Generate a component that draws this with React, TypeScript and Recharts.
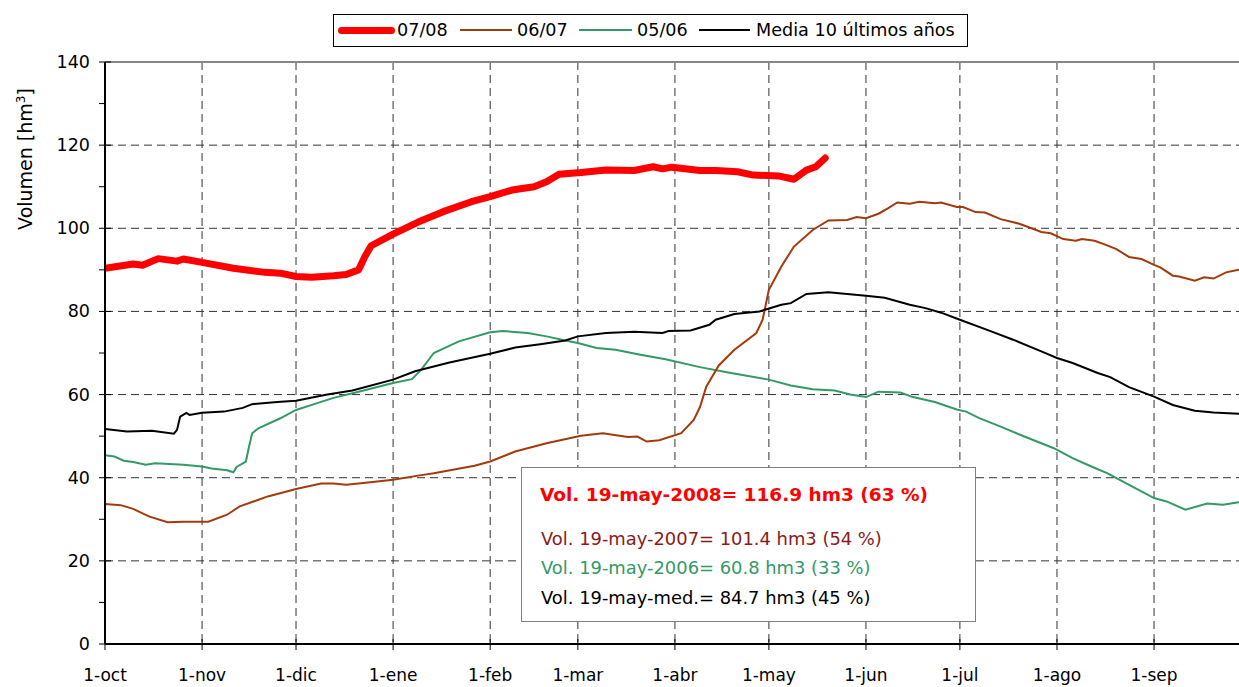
import React from 'react';
import { LineChart, Line, XAxis, YAxis, CartesianGrid, ReferenceLine } from 'recharts';

const MONTH_TICKS = [0, 31, 61, 92, 123, 151, 182, 212, 243, 273, 304, 335];
const MONTH_LABELS = ['1-oct', '1-nov', '1-dic', '1-ene', '1-feb', '1-mar', '1-abr', '1-may', '1-jun', '1-jul', '1-ago', '1-sep'];
const Y_TICKS = [0, 10, 20, 30, 40, 50, 60, 70, 80, 90, 100, 110, 120, 130, 140];
const GRID_Y = [20, 40, 60, 80, 100, 120];
const GRID_X = [31, 61, 92, 123, 151, 182, 212, 243, 273, 304, 335];

const DAYS_0708 = [0, 9, 12, 17, 23, 25, 31, 41, 51, 56, 61, 66, 73, 77, 81, 83, 85, 92, 100, 108, 117, 123, 130, 137, 141, 145, 152, 160, 169, 175, 178, 181, 190, 195, 202, 207, 215, 220, 224, 227, 230];
const VOL_0708 = [90.4, 91.4, 91.1, 92.7, 92.1, 92.6, 91.8, 90.4, 89.4, 89.2, 88.4, 88.2, 88.6, 88.9, 90.0, 93.2, 95.8, 98.6, 101.5, 104.0, 106.4, 107.6, 109.2, 110.0, 111.2, 113.0, 113.4, 114.0, 113.9, 114.8, 114.3, 114.7, 113.9, 113.9, 113.6, 112.8, 112.6, 111.8, 114.0, 114.8, 116.9];

const DAYS_0607 = [0, 5, 9, 14, 20, 25, 33, 39, 43, 52, 61, 69, 73, 77, 81, 92, 100, 105, 118, 123, 131, 141, 152, 159, 167, 170, 173, 177, 184, 188, 190, 192, 196, 201, 208, 210, 212, 216, 220, 226, 231, 237, 240, 243, 247, 250, 253, 257, 260, 265, 267, 272, 274, 278, 281, 286, 292, 299, 302, 306, 310, 312, 316, 319, 323, 327, 331, 335, 337, 341, 343, 348, 351, 354, 358, 362, 365];
const VOL_0607 = [33.7, 33.4, 32.5, 30.7, 29.3, 29.4, 29.4, 31.1, 33.1, 35.5, 37.3, 38.6, 38.6, 38.3, 38.6, 39.5, 40.5, 41.1, 42.9, 43.9, 46.3, 48.3, 50.1, 50.7, 49.8, 49.9, 48.7, 49.0, 50.7, 53.9, 57.0, 61.9, 67.0, 70.8, 74.8, 78.0, 85.2, 90.8, 95.6, 99.6, 101.9, 102.0, 102.7, 102.4, 103.5, 104.8, 106.2, 105.9, 106.4, 106.0, 106.2, 105.1, 105.1, 103.9, 103.8, 102.2, 101.1, 99.1, 98.8, 97.4, 97.0, 97.4, 97.0, 96.2, 95.0, 93.1, 92.6, 91.2, 90.6, 88.6, 88.4, 87.4, 88.2, 87.9, 89.4, 90.0, 90.2];

const DAYS_0506 = [0, 3, 6, 9, 13, 16, 25, 31, 34, 39, 41, 42, 45, 46, 47, 49, 56, 61, 68, 73, 81, 92, 98, 101, 105, 113, 123, 127, 135, 141, 147, 151, 157, 163, 171, 179, 190, 199, 212, 219, 226, 233, 238, 243, 247, 254, 258, 265, 272, 275, 279, 286, 292, 295, 303, 309, 315, 320, 326, 335, 339, 345, 352, 357, 362, 365];
const VOL_0506 = [45.4, 45.1, 44.1, 43.8, 43.1, 43.5, 43.1, 42.7, 42.2, 41.8, 41.3, 42.6, 43.9, 47.5, 50.7, 51.9, 54.3, 56.3, 58.0, 59.2, 60.7, 62.8, 63.7, 66.0, 70.0, 72.8, 75.0, 75.3, 74.8, 74.0, 73.0, 72.4, 71.2, 70.8, 69.6, 68.5, 66.6, 65.3, 63.6, 62.2, 61.3, 61.0, 60.0, 59.4, 60.7, 60.5, 59.4, 58.2, 56.4, 55.9, 54.4, 52.3, 50.4, 49.5, 47.1, 44.7, 42.7, 41.1, 38.7, 35.1, 34.3, 32.3, 33.8, 33.5, 34.1, 34.0];

const DAYS_MEDIA = [0, 7, 15, 22, 23, 24, 26, 27, 31, 38, 44, 47, 55, 61, 71, 79, 92, 99, 110, 123, 131, 139, 147, 151, 160, 169, 178, 180, 187, 193, 195, 201, 209, 216, 219, 224, 231, 237, 243, 249, 257, 262, 267, 273, 283, 290, 299, 304, 309, 317, 321, 327, 335, 341, 348, 354, 362, 365];
const VOL_MEDIA = [51.7, 51.1, 51.3, 50.6, 51.5, 54.7, 55.6, 55.1, 55.6, 55.9, 56.8, 57.7, 58.2, 58.5, 60.0, 61.0, 63.6, 65.6, 67.7, 69.8, 71.3, 72.1, 73.0, 74.0, 74.8, 75.1, 74.8, 75.3, 75.4, 76.8, 78.0, 79.4, 80.0, 81.6, 82.0, 84.2, 84.6, 84.2, 83.8, 83.3, 81.6, 80.8, 79.7, 78.0, 75.2, 73.2, 70.4, 68.8, 67.6, 65.2, 64.2, 61.8, 59.5, 57.5, 56.1, 55.7, 55.4, 55.3];

const SERIES_NAMES = ['07/08', '06/07', '05/06', 'Media 10 últimos años'];
const COLORS = ['#FF0000', '#A33A0B', '#339966', '#000000'];
const BOX_LINES = [
  'Vol. 19-may-2008= 116.9 hm3 (63 %)',
  'Vol. 19-may-2007= 101.4 hm3 (54 %)',
  'Vol. 19-may-2006= 60.8 hm3 (33 %)',
  'Vol. 19-may-med.= 84.7 hm3 (45 %)',
];
const BOX_COLORS = ['#FF0000', '#8B1A1A', '#339966', '#000000'];

const toData = (days: number[], vals: number[]) => days.map((d, i) => ({ d, v: vals[i] }));
const data0708 = toData(DAYS_0708, VOL_0708);
const data0607 = toData(DAYS_0607, VOL_0607);
const data0506 = toData(DAYS_0506, VOL_0506);
const dataMedia = toData(DAYS_MEDIA, VOL_MEDIA);

const FONT = '"DejaVu Sans", Tahoma, sans-serif';

const XTick = (props: any) => {
  const { x, y, payload } = props;
  const i = MONTH_TICKS.indexOf(payload.value);
  return (
    <g>
      <line x1={x} x2={x} y1={y - 5} y2={y + 6} stroke="#000" strokeWidth={1} />
      <text x={x} y={y + 37} textAnchor="middle" fontSize={17} fontFamily={FONT} fill="#000">
        {MONTH_LABELS[i]}
      </text>
    </g>
  );
};

const YTick = (props: any) => {
  const { x, y, payload } = props;
  const v = payload.value;
  const major = v % 20 === 0;
  return (
    <g>
      <line x1={x - 6} x2={major ? x + 6 : x} y1={y} y2={y} stroke="#000" strokeWidth={1} />
      {major && (
        <text x={x - 15} y={y + 6} textAnchor="end" fontSize={17.5} fontFamily={FONT} fill="#000">
          {v}
        </text>
      )}
    </g>
  );
};

const legendX = [[338, 395, 397], [460, 512, 517], [579, 632, 637], [699, 750, 756]];

export default function App() {
  return (
    <div style={{ position: 'fixed', left: 0, top: 0, width: 1239, height: 687, overflow: 'hidden', background: '#fff', fontFamily: FONT }}>
      <LineChart width={1248} height={687} margin={{ top: 62, right: 0, bottom: 0, left: 0 }}>
        <CartesianGrid
          horizontalValues={GRID_Y}
          verticalValues={GRID_X}
          stroke="#333"
          strokeDasharray="8 5"
          strokeWidth={1}
        />
        <XAxis
          dataKey="d"
          type="number"
          domain={[0, 365]}
          ticks={MONTH_TICKS}
          interval={0}
          height={43}
          tickSize={0}
          tickMargin={0}
          tick={<XTick />}
          axisLine={{ stroke: '#000', strokeWidth: 2 }}
          allowDataOverflow
        />
        <YAxis
          dataKey="v"
          type="number"
          domain={[0, 140]}
          ticks={Y_TICKS}
          interval={0}
          width={105}
          tickSize={0}
          tickMargin={0}
          tick={<YTick />}
          axisLine={{ stroke: '#000', strokeWidth: 2 }}
          allowDataOverflow
        />
        <ReferenceLine y={140} stroke="#888" strokeWidth={2} />
        <Line data={data0506} dataKey="v" name={SERIES_NAMES[2]} stroke={COLORS[2]} strokeWidth={2} dot={false} isAnimationActive={false} />
        <Line data={data0607} dataKey="v" name={SERIES_NAMES[1]} stroke={COLORS[1]} strokeWidth={2} dot={false} isAnimationActive={false} />
        <Line data={dataMedia} dataKey="v" name={SERIES_NAMES[3]} stroke={COLORS[3]} strokeWidth={2} dot={false} isAnimationActive={false} />
        <Line data={data0708} dataKey="v" name={SERIES_NAMES[0]} stroke={COLORS[0]} strokeWidth={7} strokeLinecap="round" strokeLinejoin="round" dot={false} isAnimationActive={false} />
      </LineChart>

      {/* Y axis title */}
      <div style={{ position: 'absolute', left: 25, top: 159, transform: 'translate(-50%, -50%) rotate(-90deg)', whiteSpace: 'nowrap', fontSize: 19, color: '#000' }}>
        Volumen [hm<sup style={{ fontSize: 12 }}>3</sup>]
      </div>

      {/* Legend */}
      <div style={{ position: 'absolute', left: 333, top: 14, width: 633, height: 31, border: '1px solid #000', background: '#fff' }} />
      {SERIES_NAMES.map((n, i) => {
        const [x1, x2, tx] = legendX[i];
        const thick = i === 0 ? 7 : 2;
        return (
          <React.Fragment key={n}>
            <div style={{ position: 'absolute', left: x1, top: 30 - thick / 2, width: x2 - x1, height: thick, background: COLORS[i], borderRadius: i === 0 ? 4 : 0 }} />
            <div style={{ position: 'absolute', left: tx, top: 19, fontSize: 17.6, lineHeight: '22px', whiteSpace: 'nowrap', color: '#000' }}>{n}</div>
          </React.Fragment>
        );
      })}

      {/* Info box */}
      <div style={{ position: 'absolute', left: 521, top: 467, width: 453, height: 153, border: '1px solid #808080', background: '#fff' }}>
        {BOX_LINES.map((t, i) => {
          const tops = [16, 60, 89, 119];
          return (
            <div key={t} style={{ position: 'absolute', left: i === 0 ? 18 : 19, top: tops[i], fontSize: i === 0 ? 18.5 : 17.9, fontWeight: i === 0 ? 'bold' : 'normal', color: BOX_COLORS[i], whiteSpace: 'nowrap', lineHeight: '22px' }}>
              {t}
            </div>
          );
        })}
      </div>
    </div>
  );
}
